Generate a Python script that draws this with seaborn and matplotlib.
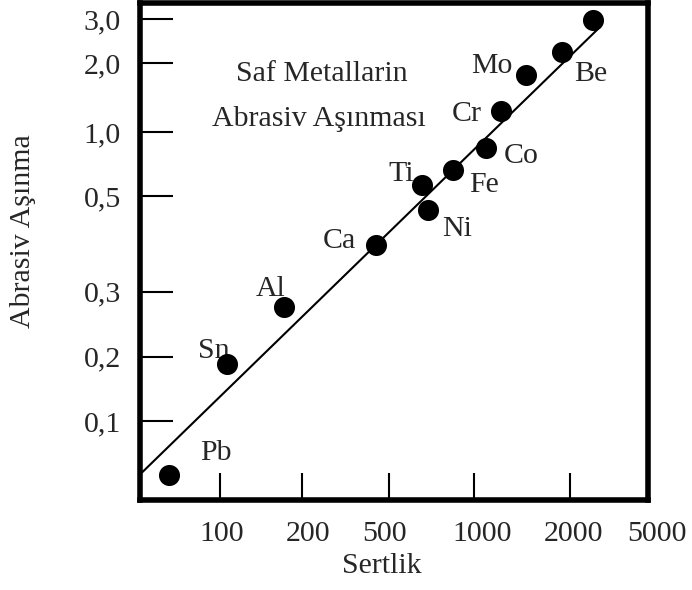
import numpy as np
import pandas as pd
import matplotlib
matplotlib.use("Agg")
import matplotlib.pyplot as plt
import seaborn as sns

# Metals: hardness (Sertlik) vs abrasive wear (Abrasiv Asinma)
metals = ['Pb', 'Sn', 'Al', 'Ca', 'Ti', 'Ni', 'Fe', 'Co', 'Cr', 'Mo', 'Be', '']
hardness = [65, 106, 172, 436, 654, 687, 843, 1090, 1215, 1455, 1888, 2547]
wear = [0.056, 0.185, 0.272, 0.386, 0.569, 0.464, 0.663, 0.841, 1.235, 1.773, 2.213, 2.97]

# trend line end points
line_hardness = [51.7, 2745]
line_wear = [0.057, 2.79]

x_tick_vals = [100, 200, 500, 1000, 2000, 5000]
x_tick_labels = ['100', '200', '500', '1000', '2000', '5000']
y_tick_vals = [0.1, 0.2, 0.3, 0.5, 1.0, 2.0, 3.0]
y_tick_labels = ['0,1', '0,2', '0,3', '0,5', '1,0', '2,0', '3,0']

# the hand drawn axes are not evenly spaced in log units, so map each
# tick value to where it sits on the drawing and interpolate between
x_knots = [80, 162, 249, 334, 430, 517]
y_knots = [79, 143, 208, 303, 367, 436, 480]


def make_scale(vals, pos):
    lv = np.log10(vals)
    pos = np.asarray(pos, float)
    s_lo = (pos[1] - pos[0]) / (lv[1] - lv[0])
    s_hi = (pos[-1] - pos[-2]) / (lv[-1] - lv[-2])

    def fwd(v):
        l = np.log10(np.clip(np.asarray(v, float), 1e-9, None))
        out = np.interp(l, lv, pos)
        out = np.where(l < lv[0], pos[0] + (l - lv[0]) * s_lo, out)
        out = np.where(l > lv[-1], pos[-1] + (l - lv[-1]) * s_hi, out)
        return out

    def inv(p):
        p = np.asarray(p, float)
        l = np.interp(p, pos, lv)
        l = np.where(p < pos[0], lv[0] + (p - pos[0]) / s_lo, l)
        l = np.where(p > pos[-1], lv[-1] + (p - pos[-1]) / s_hi, l)
        return 10 ** l

    return fwd, inv


df = pd.DataFrame({'metal': metals, 'hardness': hardness, 'wear': wear})

sns.set_style('white')
plt.rcParams['font.family'] = ['Liberation Serif', 'DejaVu Serif']
plt.rcParams['font.size'] = 21.5

fig = plt.figure(figsize=(6.92, 5.90), dpi=100)
ax = fig.add_axes([0.2023, 0.1525, 0.7341, 0.8424])

ax.set_xscale('function', functions=make_scale(x_tick_vals, x_knots))
ax.set_yscale('function', functions=make_scale(y_tick_vals, y_knots))

sns.lineplot(x=line_hardness, y=line_wear, ax=ax, color='black', linewidth=1.5, zorder=2)
sns.scatterplot(data=df, x='hardness', y='wear', ax=ax, color='black',
                s=230, linewidth=0, zorder=4)

ax.set_xlim(51, 4550)
ax.set_ylim(0.0425, 3.48)

# tick marks only; labels drawn below
ax.set_xticks(x_tick_vals[:-1], [''] * (len(x_tick_vals) - 1))
ax.set_yticks(y_tick_vals, [''] * len(y_tick_vals))
ax.xaxis.set_minor_locator(matplotlib.ticker.NullLocator())
ax.yaxis.set_minor_locator(matplotlib.ticker.NullLocator())
ax.tick_params(axis='x', direction='in', length=19.5, width=1.5, color='black', bottom=True)
ax.tick_params(axis='y', direction='in', length=24, width=1.5, color='black', left=True)

x_label_shift = [2, 6, -4, 8, 4, 0]
for v, lab, dx in zip(x_tick_vals, x_tick_labels, x_label_shift):
    ax.annotate(lab, xy=(v, 0), xycoords=('data', 'axes fraction'),
                xytext=(dx, -41), textcoords='offset pixels',
                ha='center', va='baseline', annotation_clip=False)
for v, lab in zip(y_tick_vals, y_tick_labels):
    ax.annotate(lab, xy=(0, v), xycoords=('axes fraction', 'data'),
                xytext=(-19, -3), textcoords='offset pixels',
                ha='right', va='center', annotation_clip=False)

# element labels, offset from their dots (pixels)
label_offsets = {
    'Pb': (47, 15), 'Sn': (-13, 6), 'Al': (-13, 11), 'Ca': (-36, -3),
    'Ti': (-21, 4), 'Ni': (29, -26), 'Fe': (31, -22), 'Co': (35, -15),
    'Cr': (-34, -10), 'Mo': (-34, 2), 'Be': (29, -29),
}
for _, row in df.iterrows():
    if row['metal'] in label_offsets:
        ax.annotate(row['metal'], xy=(row['hardness'], row['wear']),
                    xytext=label_offsets[row['metal']], textcoords='offset pixels',
                    ha='center', va='baseline', zorder=1)

ax.text(0.358, 0.843, 'Saf Metallarin', transform=ax.transAxes, ha='center', va='baseline')
ax.text(0.352, 0.752, 'Abrasiv Aşınması', transform=ax.transAxes, ha='center', va='baseline')

ax.set_xlabel('Sertlik')
ax.set_ylabel('Abrasiv Aşınma')
ax.xaxis.set_label_coords(0.476, -0.107)
ax.yaxis.set_label_coords(-0.205, 0.542)

for sp in ax.spines.values():
    sp.set_visible(True)
    sp.set_color('black')
    sp.set_linewidth(4)

fig.savefig('out.png', dpi=100)
